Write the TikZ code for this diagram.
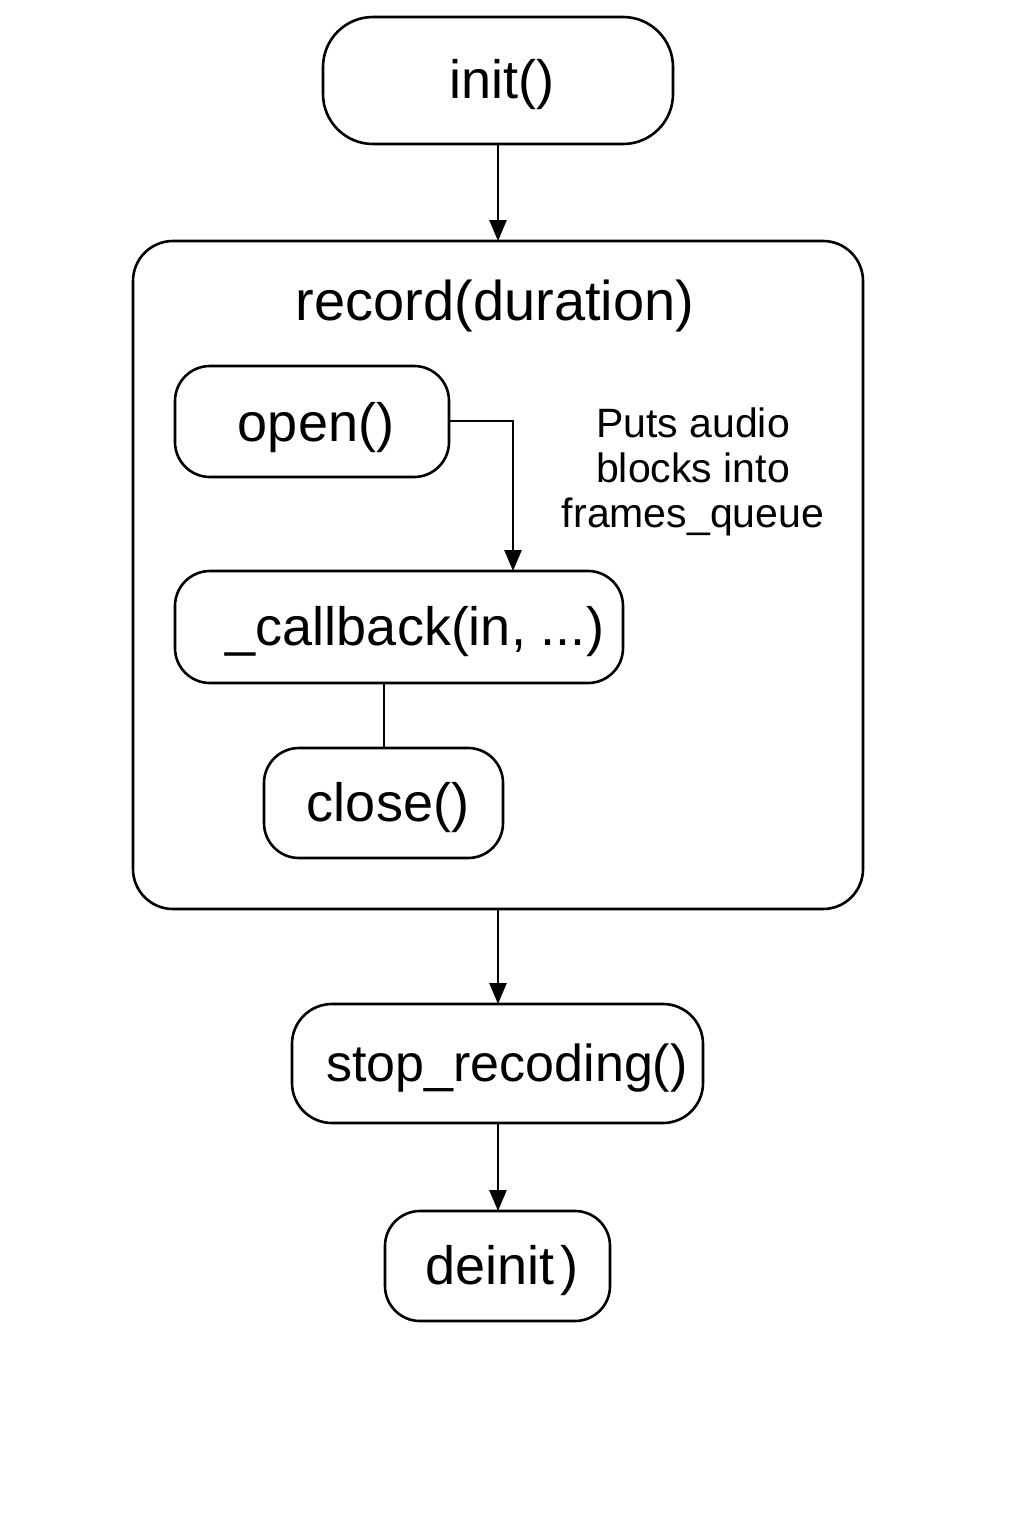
\documentclass[tikz,border=0pt]{standalone}
\usepackage{fontspec}
\setmainfont{Liberation Sans}
\usetikzlibrary{arrows.meta,positioning}
\begin{document}
\begin{tikzpicture}[x=1pt,y=-1pt,
  box/.style={draw=black,line width=2.6pt,rounded corners=#1},
  box/.default=40pt,
  lbl/.style={inner sep=0pt,font=\fontsize{54}{60}\selectfont},
  arr/.style={line width=2.6pt,-{Triangle[width=17pt,length=21pt]}},
  ln/.style={line width=2.6pt}]
\useasboundingbox[fill=white] (0,0) rectangle (1024,1536);
% boxes
\draw[box=50pt] (323,17) rectangle (673,144);
\node[lbl] (init) at (502,85) {init()};
\coordinate (initB) at (498,144);
\draw[box=40pt] (133,241) rectangle (863,909);
\coordinate (recT) at (498,241);
\coordinate (recB) at (498,909);
\node[lbl,font=\fontsize{56}{62}\selectfont] (rec) at (495,306) {record(duration)};
\draw[box=35pt] (175,366) rectangle (449,477);
\node[lbl] (open) at (316,428) {open()};
\coordinate (openR) at (449,421);
\draw[box=35pt] (175,571) rectangle (623,683);
\node[lbl] (cb) at (415,632) {\_callback(in, ...)};
\coordinate (cbT) at (513,571);
\coordinate (cbB) at (384,683);
\draw[box=35pt] (264,748) rectangle (503,858);
\node[lbl] (close) at (388,808) {close()};
\coordinate (closeT) at (384,748);
\node[inner sep=0pt,align=center,font=\fontsize{41}{45}\selectfont] (note) at (693,472) {Puts audio\\blocks into\\frames\_queue};
\draw[box=40pt] (292,1004) rectangle (703,1123);
\node[lbl,font=\fontsize{52}{58}\selectfont] (stop) at (507,1068) {stop\_recoding()};
\coordinate (stopT) at (498,1004);
\coordinate (stopB) at (498,1123);
\draw[box=35pt] (385,1211) rectangle (610,1321);
\node[lbl] (deinit) at (502,1271) {deinit\kern0.12em)};
\coordinate (deinitT) at (498,1211);
% connectors
\draw[arr] (initB) -- (recT);
\draw[arr] (openR) -| (cbT);
\draw[ln] (cbB) -- (closeT);
\draw[arr] (recB) -- (stopT);
\draw[arr] (stopB) -- (deinitT);
\end{tikzpicture}
\end{document}
